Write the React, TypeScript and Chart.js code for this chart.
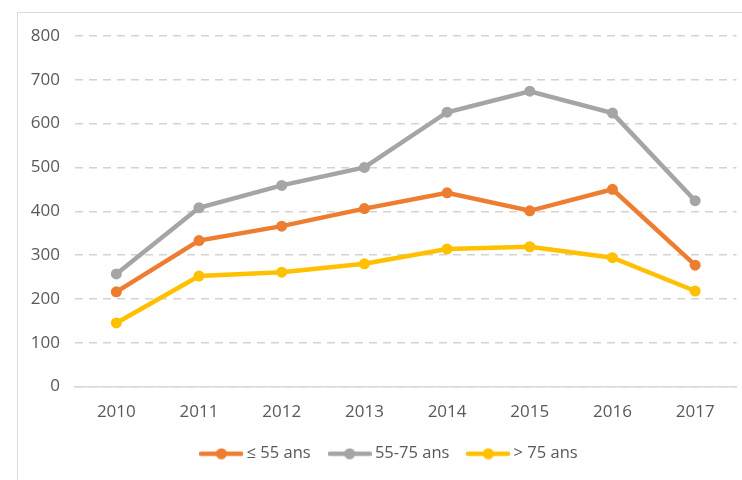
import React, { useEffect, useRef } from "react";
import { Chart, registerables } from "chart.js";

Chart.register(...registerables);

const categories = ["2010", "2011", "2012", "2013", "2014", "2015", "2016", "2017"];
const seriesLe55 = [216, 333, 366, 406, 442, 401, 450, 277];
const series55to75 = [257, 408, 459, 500, 626, 674, 624, 424];
const seriesGt75 = [145, 252, 261, 280, 314, 319, 294, 218];
const seriesNames = ["≤ 55 ans", "55-75 ans", "> 75 ans"];
const yTicks = [0, 100, 200, 300, 400, 500, 600, 700, 800];

const COLORS = ["#ED7D31", "#A5A5A5", "#FFC000"];
const FONT = "'Open Sans', 'DejaVu Sans', sans-serif";
const TEXT = "#595959";

function legendMarker(color: string): HTMLCanvasElement {
  const c = document.createElement("canvas");
  c.width = 44;
  c.height = 12;
  const ctx = c.getContext("2d")!;
  ctx.strokeStyle = color;
  ctx.lineWidth = 4.5;
  ctx.lineCap = "round";
  ctx.beginPath();
  ctx.moveTo(2, 6);
  ctx.lineTo(42, 6);
  ctx.stroke();
  ctx.fillStyle = color;
  ctx.beginPath();
  ctx.arc(22, 6, 5.5, 0, Math.PI * 2);
  ctx.fill();
  return c;
}

const shiftLegend = {
  id: "shiftLegend",
  afterLayout(chart: any) {
    const lg = chart.legend;
    if (lg) {
      lg.left += 14;
      lg.right += 14;
    }
  },
};

export default function App() {
  const ref = useRef<HTMLCanvasElement | null>(null);

  useEffect(() => {
    if (!ref.current) return;
    const values = [seriesLe55, series55to75, seriesGt75];
    const markers = COLORS.map(legendMarker);
    const chart = new Chart(ref.current, {
      type: "line",
      data: {
        labels: categories,
        datasets: values.map((v, i) => ({
          label: seriesNames[i],
          data: v,
          borderColor: COLORS[i],
          backgroundColor: COLORS[i],
          pointBackgroundColor: COLORS[i],
          pointBorderColor: COLORS[i],
          borderWidth: 4.5,
          pointRadius: 5.5,
          pointBorderWidth: 0,
          pointStyle: "circle",
          tension: 0,
          fill: false,
        })),
      },
      plugins: [shiftLegend],
      options: {
        animation: false,
        responsive: false,
        maintainAspectRatio: false,
        layout: { padding: { left: 17, right: 5, top: 36, bottom: 8 } },
        plugins: {
          legend: {
            position: "bottom",
            labels: {
              usePointStyle: true,
              pointStyleWidth: 34,
              color: TEXT,
              font: { family: FONT, size: 16.5 },
              padding: 22,
              generateLabels: (ch: any) =>
                ch.data.datasets.map((ds: any, i: number) => ({
                  text: ds.label,
                  fillStyle: COLORS[i],
                  strokeStyle: COLORS[i],
                  lineWidth: 0,
                  pointStyle: markers[i],
                  fontColor: TEXT,
                  hidden: false,
                  datasetIndex: i,
                })),
            },
          },
          tooltip: { enabled: false },
        },
        scales: {
          x: {
            offset: true,
            grid: { display: false, drawTicks: false },
            border: { display: true, color: "#D9D9D9", width: 1.5 },
            ticks: { color: TEXT, font: { family: FONT, size: 17 }, padding: 15 },
            afterFit: (s: any) => {
              s.height = 37;
            },
          },
          y: {
            min: 0,
            max: 800,
            afterBuildTicks: (s: any) => {
              s.ticks = yTicks.map((v) => ({ value: v }));
            },
            grid: { color: "#D3D3D3", drawTicks: false, lineWidth: 1.5 },
            border: { display: false, dash: [8, 6] },
            ticks: { color: TEXT, font: { family: FONT, size: 17 }, padding: 15 },
            afterFit: (s: any) => {
              s.width = 58;
            },
          },
        },
      },
    });
    return () => chart.destroy();
  }, []);

  return (
    <div style={{ position: "absolute", left: 0, top: 0, width: 742, height: 480, background: "#fff", overflow: "hidden" }}>
      <div
        style={{
          position: "absolute",
          left: 17,
          top: 12,
          width: 740,
          height: 480,
          borderLeft: "1px solid #D9D9D9",
          borderTop: "1px solid #D9D9D9",
        }}
      />
      <canvas ref={ref} width={742} height={480} style={{ position: "absolute", left: 0, top: 0 }} />
    </div>
  );
}
